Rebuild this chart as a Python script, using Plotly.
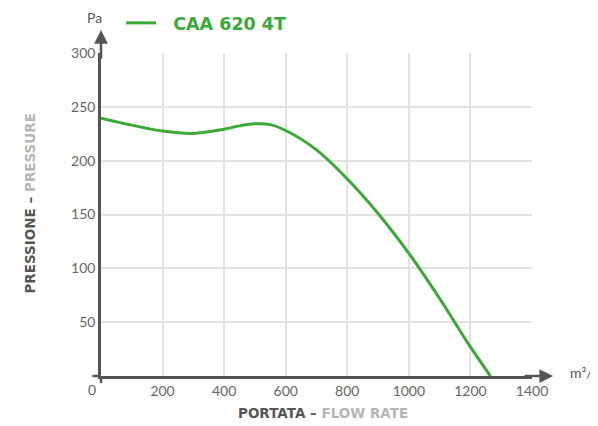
import plotly.graph_objects as go

# Data
flow = [0, 100, 200, 300, 400, 450, 500, 550, 600, 700, 800, 900, 1000, 1100, 1200, 1265]
pressure = [239.5, 233, 227.5, 225.3, 229.2, 232.3, 234.3, 233.5, 228, 210, 183, 151, 114, 72, 27, 0]
series_name = "CAA 620 4T"
x_ticks = [200, 400, 600, 800, 1000, 1200, 1400]
y_ticks = [50, 100, 150, 200, 250, 300]

GREEN = "#3aa935"
AXIS = "#555555"
TICK = "#666666"
GRID = "#e2e2e2"

W, H = 590, 418

fig = go.Figure()
fig.add_trace(go.Scatter(
    x=flow, y=pressure, mode="lines", name="\u00a0\u00a0" + series_name,
    line=dict(color=GREEN, width=3, shape="spline", smoothing=1.0),
    hoverinfo="skip",
))

fig.update_layout(
    width=W, height=H,
    margin=dict(l=93, r=66, t=45, b=50, autoexpand=False),
    paper_bgcolor="white", plot_bgcolor="white",
    font=dict(family="Lato", color=TICK, size=14),
    showlegend=True,
    legend=dict(
        orientation="h", x=113 / W, y=1 - 15 / H, xref="container", yref="container",
        xanchor="left", yanchor="middle", itemwidth=30,
        font=dict(family="DejaVu Sans", size=17.5, color=GREEN, weight="bold"),
        bgcolor="rgba(0,0,0,0)",
    ),
    xaxis=dict(
        range=[0, 1400], tickvals=x_ticks, ticktext=[str(v) for v in x_ticks],
        showgrid=True, gridcolor=GRID, gridwidth=1.5,
        showline=True, linecolor=AXIS, linewidth=2.5,
        zeroline=False, ticks="", ticklen=0,
        tickfont=dict(family="Lato", size=14, color=TICK),
        fixedrange=True,
    ),
    yaxis=dict(
        range=[0, 300], tickvals=y_ticks, ticktext=[str(v) for v in y_ticks],
        showgrid=True, gridcolor=GRID, gridwidth=1.5,
        showline=True, linecolor=AXIS, linewidth=2.5,
        zeroline=False, ticks="", ticklen=0,
        tickfont=dict(family="Lato", size=14, color=TICK),
        fixedrange=True,
    ),
)

# Arrow heads on the axes
fig.add_annotation(x=0, y=1.071, xref="paper", yref="paper", ax=0, ay=30,
                   axref="pixel", ayref="pixel", showarrow=True, arrowhead=2,
                   arrowsize=1.1, arrowwidth=2.5, arrowcolor=AXIS, text="")
fig.add_annotation(x=1.049, y=0, xref="paper", yref="paper", ax=-30, ay=0,
                   axref="pixel", ayref="pixel", showarrow=True, arrowhead=2,
                   arrowsize=1.1, arrowwidth=2.5, arrowcolor=AXIS, text="")

# small overhangs at the origin
fig.add_shape(type="line", xref="paper", yref="paper", x0=-0.02, x1=0, y0=0, y1=0,
              line=dict(color=AXIS, width=2.5))
fig.add_shape(type="line", xref="paper", yref="paper", x0=0, x1=0, y0=-0.022, y1=0,
              line=dict(color=AXIS, width=2.5))

# unit labels and origin label
fig.add_annotation(x=0, y=1.111, xref="paper", yref="paper", text="Pa", showarrow=False,
                   xanchor="right", yanchor="middle", xshift=3,
                   font=dict(family="Lato", size=14, color=AXIS))
fig.add_annotation(x=1.0835, y=0.012, xref="paper", yref="paper", text="m³/h", showarrow=False,
                   xanchor="left", yanchor="middle", font=dict(family="Lato", size=14, color=AXIS))
fig.add_annotation(x=0, y=0, xref="paper", yref="paper", text="0", showarrow=False,
                   xanchor="center", yanchor="top", xshift=-9, yshift=-3,
                   font=dict(family="Lato", size=14, color=TICK))

# Axis titles
fig.add_annotation(x=0.514, y=-0.115, xref="paper", yref="paper", showarrow=False,
                   xanchor="center", yanchor="middle",
                   text="PORTATA – <span style='color:#b5b5b5'>FLOW RATE</span>",
                   font=dict(family="DejaVu Sans", size=13.5, color=AXIS, weight="bold"))
fig.add_annotation(x=-0.167, y=0.534, xref="paper", yref="paper", showarrow=False,
                   xanchor="center", yanchor="middle", textangle=-90,
                   text="PRESSIONE – <span style='color:#b5b5b5'>PRESSURE</span>",
                   font=dict(family="DejaVu Sans", size=13.5, color=AXIS, weight="bold"))

fig.write_html("out.html")
